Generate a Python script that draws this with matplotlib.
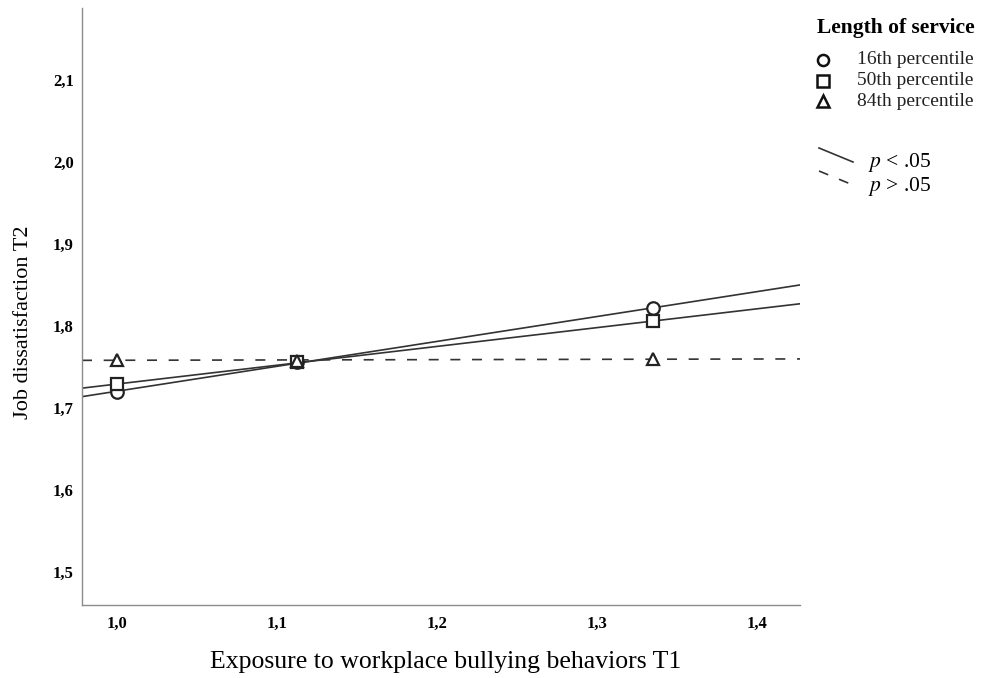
import numpy as np
import matplotlib
matplotlib.use("Agg")
import matplotlib.pyplot as plt
from matplotlib.lines import Line2D

# Data
x_points = [1.0, 1.1125, 1.335]
p16 = [1.720, 1.756, 1.822]
p50 = [1.729, 1.756, 1.806]
p84 = [1.759, 1.758, 1.760]

groups = ["16th percentile", "50th percentile", "84th percentile"]
markers = ["o", "s", "^"]
series = [p16, p50, p84]
styles = ["-", "-", (0, (6, 7))]

x_ticks = [1.0, 1.1, 1.2, 1.3, 1.4]
y_ticks = [1.5, 1.6, 1.7, 1.8, 1.9, 2.0, 2.1]
x_lim = (0.978, 1.427)
y_lim = (1.46, 2.188)

plt.rcParams['font.family'] = ['Liberation Serif', 'DejaVu Serif']
plt.rcParams['mathtext.fontset'] = 'stix'

fig = plt.figure(figsize=(9.91, 6.78), dpi=100)
ax = fig.add_axes([82 / 991, 73 / 678, 718 / 991, 597 / 678])

line_color = "#333333"
xs = np.array(x_lim)
for vals, m, ls in zip(series, markers, styles):
    # fitted simple slope through the three points
    slope, icpt = np.polyfit(x_points, vals, 1)
    ax.plot(xs, slope * xs + icpt, color=line_color, lw=1.2, linestyle=ls, zorder=2)
    ax.plot(x_points, vals, linestyle="none", marker=m, markersize=9,
            markerfacecolor="white", markeredgecolor="#222222", markeredgewidth=1.6, zorder=3)

ax.set_xlim(*x_lim)
ax.set_ylim(*y_lim)
ax.set_xticks(x_ticks)
ax.set_yticks(y_ticks)
ax.set_xticklabels([f"{v:.1f}".replace(".", ",") for v in x_ticks], fontsize=12, fontweight="bold")
ax.set_yticklabels([f"{v:.1f}".replace(".", ",") for v in y_ticks], fontsize=12, fontweight="bold")
ax.tick_params(axis="y", length=0, pad=6)
ax.tick_params(axis="x", length=0, pad=8)

for side in ["top", "right"]:
    ax.spines[side].set_visible(False)
for side in ["left", "bottom"]:
    ax.spines[side].set_color("#8c8c8c")
    ax.spines[side].set_linewidth(1.0)

ax.set_xlabel("Exposure to workplace bullying behaviors T1", fontsize=18.5)
ax.set_ylabel("Job dissatisfaction T2", fontsize=16)
ax.xaxis.set_label_coords(0.506, -0.0955)
ax.yaxis.set_label_coords(-0.082, 0.474)
ax.xaxis.label.set_va("center")
ax.yaxis.label.set_va("center")

# Legend (manual, outside the axes)
fig.text(817 / 991, 1 - 28 / 678, "Length of service", fontsize=15.5, fontweight="bold",
         ha="left", va="center")
for i, (name, m) in enumerate(zip(groups, markers)):
    yy = 1 - (60 + i * 20.5) / 678
    fig.add_artist(Line2D([823 / 991], [yy], marker=m, markersize=8, linestyle="none",
                          markerfacecolor="white", markeredgecolor="#111111",
                          markeredgewidth=1.8, transform=fig.transFigure))
    fig.text(857 / 991, yy, name, fontsize=14, ha="left", va="center", color="#222222")

fig.add_artist(Line2D([819 / 991, 853 / 991], [1 - 148 / 678, 1 - 162 / 678],
                      color=line_color, lw=1.2, transform=fig.transFigure))
fig.add_artist(Line2D([819 / 991, 853 / 991], [1 - 171 / 678, 1 - 185 / 678],
                      color=line_color, lw=1.2, linestyle=(0, (6, 7)), transform=fig.transFigure))
fig.text(868 / 991, 1 - 163 / 678, r"$\it{p}$ < .05", fontsize=15.5, ha="left", va="center")
fig.text(868 / 991, 1 - 186 / 678, r"$\it{p}$ > .05", fontsize=15.5, ha="left", va="center")

fig.savefig("out.png", dpi=100, facecolor="white")
